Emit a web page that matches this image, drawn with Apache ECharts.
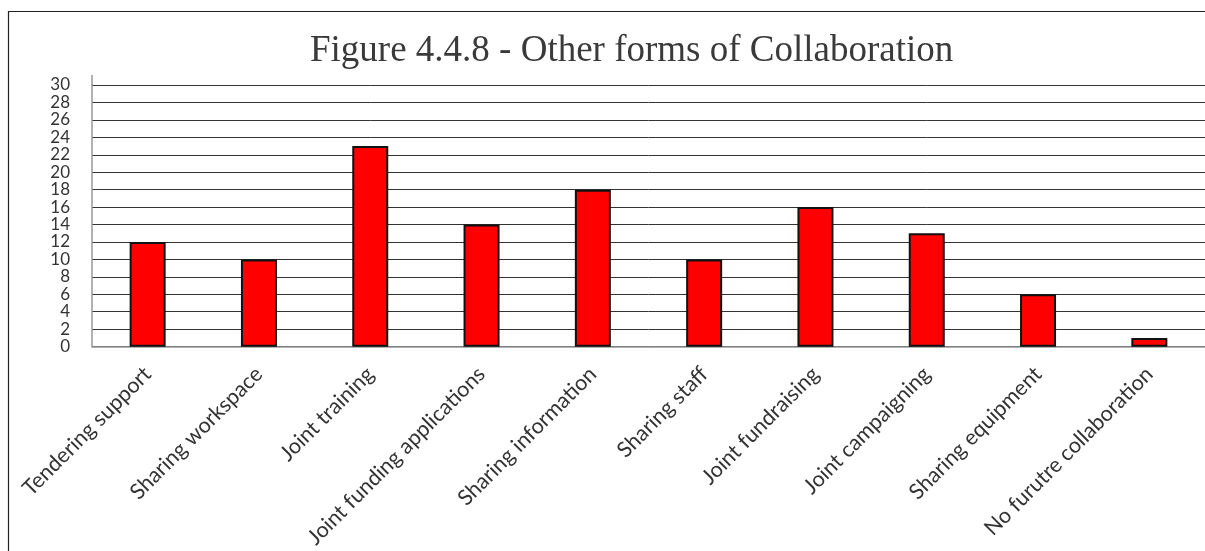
<!DOCTYPE html>
<html>
<head>
<meta charset="utf-8">
<script src="https://cdn.jsdelivr.net/npm/echarts@6/dist/echarts.min.js"></script>
<style>html,body{margin:0;padding:0;background:#fff;}#c{width:1205px;height:551px;}</style>
</head>
<body>
<div id="c"></div>
<script>
const titleText = "Figure 4.4.8 - Other forms of Collaboration";
const categories = ["Tendering support","Sharing workspace","Joint training","Joint funding applications","Sharing information","Sharing staff","Joint fundraising","Joint campaigning","Sharing equipment","No furutre collaboration"];
const values = [12, 10, 23, 14, 18, 10, 16, 13, 6, 1];
const yMin = 0, yMax = 30, yStep = 2;

const chart = echarts.init(document.getElementById('c'), null, {renderer:'canvas'});
chart.setOption({
  animation:false,
  backgroundColor:'#fff',
  title:{
    text:titleText, left:305, top:28,
    textStyle:{fontFamily:'Liberation Serif', fontSize:37, fontWeight:'normal', color:'#3a3a3a'}
  },
  graphic:[
    {type:'rect', shape:{x:8.5,y:11.5,width:1300,height:700}, style:{fill:'none', stroke:'#222', lineWidth:1.2}, silent:true},
    {type:'line', shape:{x1:92,y1:75,x2:92,y2:86}, style:{stroke:'#999', lineWidth:1.5}, silent:true}
  ],
  grid:{left:92, top:85, width:1120, height:265, containLabel:false},
  xAxis:{
    type:'category', data:categories,
    axisLine:{lineStyle:{color:'#999', width:1.5}},
    axisTick:{show:false},
    axisLabel:{rotate:45, interval:0, margin:24, fontFamily:'Lato', fontSize:21.5, color:'#333'}
  },
  yAxis:{
    type:'value', min:yMin, max:yMax, interval:yStep,
    axisLine:{show:true, lineStyle:{color:'#999', width:1.5}},
    axisTick:{show:false},
    axisLabel:{fontFamily:'Lato', fontSize:17, color:'#333', margin:22},
    splitLine:{lineStyle:{color:'#333', width:1}}
  },
  series:[{
    type:'bar', data:values, barWidth:36,
    itemStyle:{color:'#ff0000', borderColor:'#111', borderWidth:2}
  }]
});
</script>
</body>
</html>
